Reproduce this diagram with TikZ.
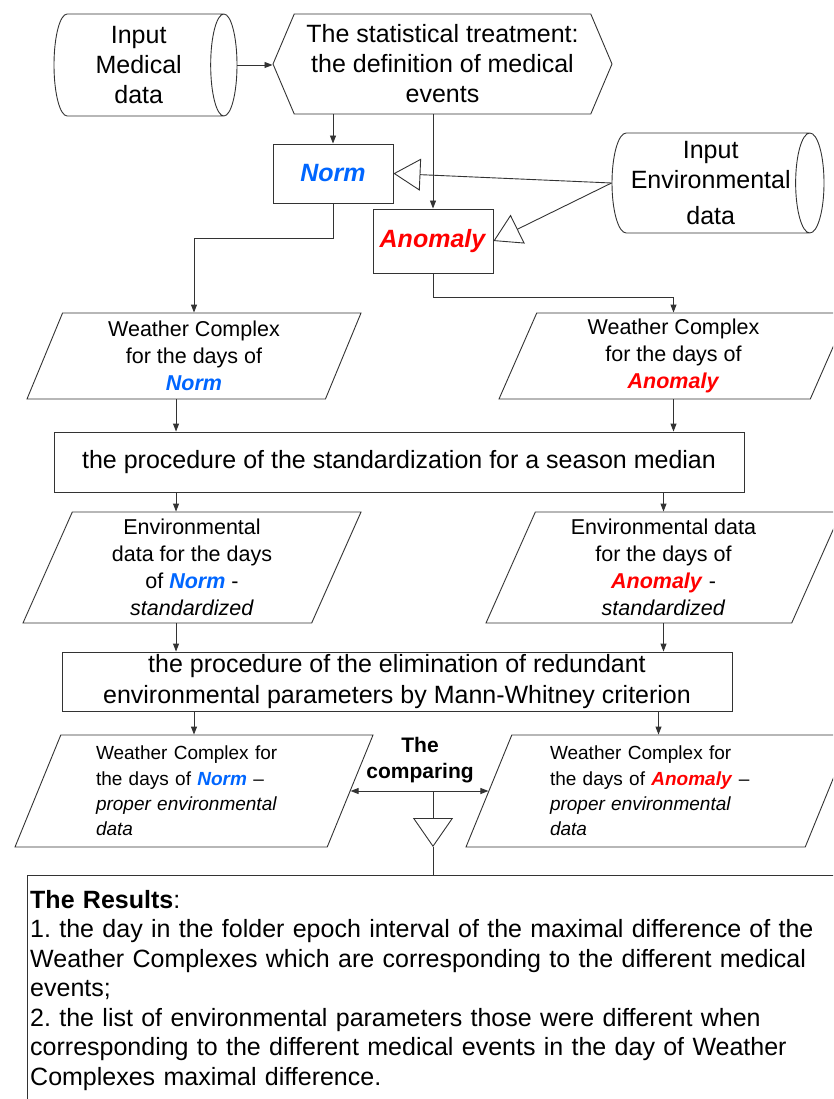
\documentclass[tikz,border=0pt]{standalone}
\usepackage{fontspec}
\setmainfont{Liberation Sans}
\usetikzlibrary{shapes.geometric,shapes.symbols,arrows.meta}
\definecolor{normblue}{RGB}{0,102,255}
\definecolor{anomred}{RGB}{255,0,0}
\newcommand{\nrm}{\textcolor{normblue}{\textbf{\textit{Norm}}}}
\newcommand{\anm}{\textcolor{anomred}{\textbf{\textit{Anomaly}}}}
\frenchspacing
\begin{document}
\begin{tikzpicture}[x=1pt,y=-1pt]
\tikzstyle{every node}+=[inner sep=0pt]
\tikzstyle{line}=[draw=black!80, line width=0.9pt]
\tikzstyle{arr}=[line, -{Triangle[length=8pt,width=6pt]}]
\tikzstyle{hollow}=[line, -{Triangle[open,length=27pt,width=32pt]}]
\tikzstyle{store}=[cylinder, line, aspect=0.34, anchor=shape center, align=center, font=\fontsize{25}{30}\selectfont]
\tikzstyle{box}=[rectangle, line, align=center, font=\fontsize{25}{31}\selectfont]
\tikzstyle{io}=[trapezium, trapezium left angle=63, trapezium right angle=117, trapezium stretches body, line, align=center, font=\fontsize{21.5}{27}\selectfont]
\useasboundingbox (0,0) rectangle (833,1099);
\clip (0,0) rectangle (833,1099);
\node[store, minimum width=102pt, minimum height=183pt] (medin) at (145.5,65) {Input\\Medical\\data};
\node[signal, signal to=west and east, signal pointer angle=134, line, align=center, minimum width=339pt, minimum height=100pt, font=\fontsize{25}{30}\selectfont] (stat) at (442.5,64) {The statistical treatment:\\the definition of medical\\events};
\node[box, minimum width=120pt, minimum height=59pt] (norm) at (333,173.5) {\nrm};
\node[box, minimum width=120pt, minimum height=64pt] (anom) at (433,241) {\anm};
\node[store, minimum width=100pt, minimum height=212pt] (envin) at (718,183) {Input\\Environmental\\[6pt]data};
\node[io, minimum width=334pt, minimum height=86pt] (wcn) at (194,356) {Weather Complex\\for the days of\\\nrm};
\node[io, minimum width=349pt, minimum height=86pt] (wca) at (673.5,356) {Weather Complex\\for the days of\\\anm};
\node[box, minimum width=690pt, minimum height=60pt] (std) at (399,462) {the procedure of the standardization for a season median};
\node[io, minimum width=338pt, minimum height=111pt] (envn) at (192,567.5) {Environmental\\data for the days\\of \nrm{} -\\\textit{standardized}};
\node[io, minimum width=355pt, minimum height=111pt] (enva) at (663.5,567.5) {Environmental data\\for the days of\\\anm{} -\\\textit{standardized}};
\node[box, minimum width=670pt, minimum height=59pt] (elim) at (397,681.5) {the procedure of the elimination of redundant\\environmental parameters by Mann-Whitney criterion};
\node[io, minimum width=358pt, minimum height=112pt, text width=196pt, align=left, font=\fontsize{19}{25.3}\selectfont] (wcpn) at (194,791) {Weather Complex for\\the days of \nrm{} –\\\textit{proper environmental}\\\textit{data}};
\node[io, minimum width=385pt, minimum height=112pt, text width=217pt, align=left, font=\fontsize{19}{25.3}\selectfont] (wcpa) at (658.5,791) {Weather Complex for\\the days of \anm{} –\\\textit{proper environmental}\\\textit{data}};
\node[align=center, font=\fontsize{21}{26}\selectfont\bfseries] (cmp) at (420,760) {The\\comparing};
\coordinate (split) at (433,791);
\coordinate (tip) at (433,847);
\node[anchor=north west, text width=830pt, align=left, inner xsep=3pt, inner ysep=15pt, font=\fontsize{25}{29.5}\selectfont] (res) at (27,875) {\textbf{The Results}:\\1. the day in the folder epoch interval of the maximal difference of the\\Weather Complexes which are corresponding to the different medical\\events;\\2. the list of environmental parameters those were different when\\corresponding to the different medical events in the day of Weather\\Complexes maximal difference.};
\draw[line] ([yshift=-300pt]res.north west) -- (res.north west) -- (res.north east);
\draw[arr] (medin.east) -- (medin.east -| stat.west);
\draw[arr] (norm.north |- stat.south) -- (norm.north);
\draw[arr] (anom.north |- stat.south) -- (anom.north);
\draw[hollow] (envin.west) -- (norm.east);
\draw[hollow] (envin.west) -- (anom.east);
\draw[arr] (norm.south) -- ++(0,35) -| (wcn.center |- wcn.top side);
\draw[arr] (anom.south) -- ++(0,24) -| (wca.center |- wca.top side);
\draw[arr] (wcn.bottom side) -- (wcn.bottom side |- std.north);
\draw[arr] (wca.center |- wca.bottom side) -- (wca.center |- std.north);
\draw[arr] (wcn.bottom side |- std.south) -- (wcn.bottom side |- envn.top side);
\draw[arr] (enva.center |- std.south) -- (enva.center |- enva.top side);
\draw[arr] (wcn.bottom side |- envn.bottom side) -- (wcn.bottom side |- elim.north);
\draw[arr] (enva.center |- enva.bottom side) -- (enva.center |- elim.north);
\draw[arr] (wcpn.center |- elim.south) -- (wcpn.center |- wcpn.top side);
\draw[arr] (wcpa.center |- elim.south) -- (wcpa.center |- wcpa.top side);
\draw[line, {Triangle[length=8pt,width=6pt]}-{Triangle[length=8pt,width=6pt]}] (wcpn.right side) -- (wcpa.left side);
\draw[line, -{Triangle[open,length=29pt,width=40pt]}] (split) -- (tip);
\draw[line] (tip) -- (tip |- res.north);
\end{tikzpicture}
\end{document}
